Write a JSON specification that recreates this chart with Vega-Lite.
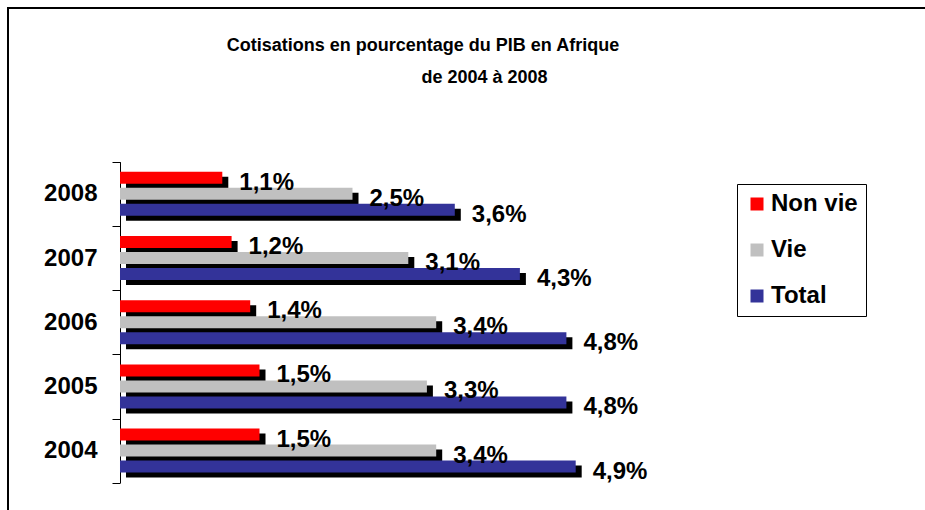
{
  "$schema": "https://vega.github.io/schema/vega-lite/v6.json",
  "width": 930,
  "height": 515,
  "autosize": "none",
  "padding": {"left": 8, "top": 8, "right": 0, "bottom": 0},
  "background": "white",
  "config": {
    "view": {"stroke": "black", "strokeWidth": 2},
    "font": "Liberation Sans"
  },
  "title": {
    "text": "Cotisations en pourcentage du PIB en Afrique",
    "anchor": "middle",
    "dx": -50,
    "offset": -59,
    "font": "Liberation Sans",
    "fontSize": 18,
    "fontWeight": "bold",
    "color": "black"
  },
  "data": {
    "values": [
      {"year": "2008", "series": "Non vie", "value": 1.1, "label": "1,1%"},
      {"year": "2008", "series": "Vie", "value": 2.5, "label": "2,5%"},
      {"year": "2008", "series": "Total", "value": 3.6, "label": "3,6%"},
      {"year": "2007", "series": "Non vie", "value": 1.2, "label": "1,2%"},
      {"year": "2007", "series": "Vie", "value": 3.1, "label": "3,1%"},
      {"year": "2007", "series": "Total", "value": 4.3, "label": "4,3%"},
      {"year": "2006", "series": "Non vie", "value": 1.4, "label": "1,4%"},
      {"year": "2006", "series": "Vie", "value": 3.4, "label": "3,4%"},
      {"year": "2006", "series": "Total", "value": 4.8, "label": "4,8%"},
      {"year": "2005", "series": "Non vie", "value": 1.5, "label": "1,5%"},
      {"year": "2005", "series": "Vie", "value": 3.3, "label": "3,3%"},
      {"year": "2005", "series": "Total", "value": 4.8, "label": "4,8%"},
      {"year": "2004", "series": "Non vie", "value": 1.5, "label": "1,5%"},
      {"year": "2004", "series": "Vie", "value": 3.4, "label": "3,4%"},
      {"year": "2004", "series": "Total", "value": 4.9, "label": "4,9%"}
    ]
  },
  "layer": [
    {
      "mark": {"type": "bar", "color": "black"},
      "encoding": {
        "x": {"field": "value", "type": "quantitative", "axis": null,
              "scale": {"domain": [-1.2688, 8.7312], "nice": false, "zero": false}},
        "y": {"field": "year", "type": "nominal", "axis": null,
              "sort": ["2008", "2007", "2006", "2005", "2004"],
              "scale": {"range": [158.7, 479.7], "paddingInner": 0, "paddingOuter": 0}},
        "yOffset": {"field": "series", "type": "nominal",
                    "sort": ["Non vie", "Vie", "Total"],
                    "scale": {"paddingInner": 0.25, "paddingOuter": 0.63}}
      }
    },
    {
      "mark": {"type": "bar"},
      "encoding": {
        "x": {"field": "value", "type": "quantitative", "axis": null,
              "scale": {"domain": [-1.2043, 8.7957], "nice": false, "zero": false}},
        "y": {"field": "year", "type": "nominal",
              "sort": ["2008", "2007", "2006", "2005", "2004"],
              "scale": {"range": [153.7, 474.7], "paddingInner": 0, "paddingOuter": 0},
              "axis": {
                "title": null, "offset": -112, "domainColor": "black", "domainWidth": 1,
                "tickColor": "black", "tickSize": 8, "tickBand": "extent", "grid": false,
                "labelFont": "Liberation Sans", "labelFontSize": 24, "labelFontWeight": "bold",
                "labelColor": "black", "labelPadding": 15
              }},
        "yOffset": {"field": "series", "type": "nominal",
                    "sort": ["Non vie", "Vie", "Total"],
                    "scale": {"paddingInner": 0.25, "paddingOuter": 0.63}},
        "color": {"field": "series", "type": "nominal",
                  "sort": ["Non vie", "Vie", "Total"],
                  "scale": {"domain": ["Non vie", "Vie", "Total"], "range": ["#FF0000", "#C0C0C0", "#333399"]},
                  "legend": {
                    "title": null, "orient": "none", "legendX": 729, "legendY": 176,
                    "symbolType": "square", "symbolSize": 169, "symbolStrokeWidth": 0,
                    "labelFont": "Liberation Sans", "labelFontSize": 24, "labelFontWeight": "bold",
                    "labelColor": "black", "labelOffset": 2, "rowPadding": 22,
                    "padding": 8, "strokeColor": "black", "fillColor": "white"
                  }}
      }
    },
    {
      "mark": {"type": "text", "align": "left", "baseline": "alphabetic", "dx": 17, "dy": 12,
               "font": "Liberation Sans", "fontSize": 24, "fontWeight": "bold", "color": "black"},
      "encoding": {
        "x": {"field": "value", "type": "quantitative",
              "scale": {"domain": [-1.2043, 8.7957], "nice": false, "zero": false},
              "axis": {
                "orient": "top", "title": "de 2004  à 2008", "domain": false, "ticks": false,
                "labels": false, "grid": false, "titleX": 476, "titleY": 74,
                "titleAlign": "center", "titleBaseline": "alphabetic", "titleAngle": 0,
                "titleFont": "Liberation Sans", "titleFontSize": 18, "titleFontWeight": "bold",
                "titleColor": "black"
              }},
        "y": {"field": "year", "type": "nominal", "axis": null,
              "sort": ["2008", "2007", "2006", "2005", "2004"],
              "scale": {"range": [153.7, 474.7], "paddingInner": 0, "paddingOuter": 0}},
        "yOffset": {"field": "series", "type": "nominal",
                    "sort": ["Non vie", "Vie", "Total"],
                    "scale": {"paddingInner": 0.25, "paddingOuter": 0.63}},
        "text": {"field": "label"}
      }
    }
  ],
  "resolve": {"scale": {"x": "independent", "y": "independent"}}
}
